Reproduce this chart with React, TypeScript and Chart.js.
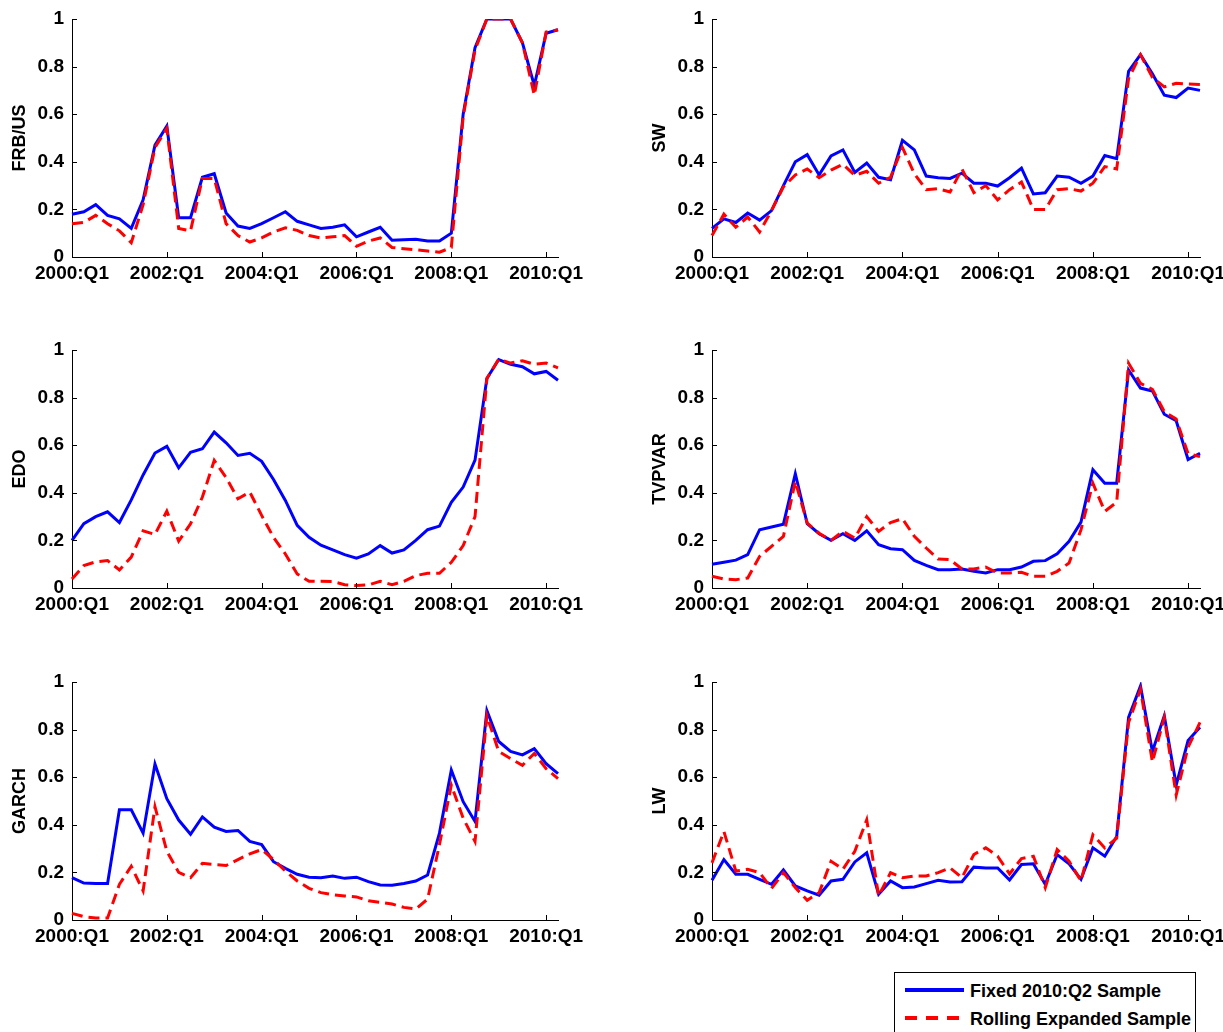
import React, { useEffect, useRef } from "react";
import { Chart, registerables } from "chart.js";

Chart.register(...registerables);

const FONT = '"Liberation Sans", Arial, Helvetica, sans-serif';

const quarters: string[] = [];
for (let yr = 2000; yr <= 2010; yr++) {
  for (let q = 1; q <= 4; q++) {
    if (yr === 2010 && q > 2) break;
    quarters.push(`${yr}:Q${q}`);
  }
}
const xTickIdx = [0, 8, 16, 24, 32, 40];
const legendLabels = ["Fixed 2010:Q2 Sample", "Rolling Expanded Sample"];

const frbFixed = [0.18,0.19,0.22,0.175,0.16,0.12,0.24,0.47,0.55,0.165,0.165,0.335,0.35,0.185,0.13,0.12,0.14,0.165,0.19,0.15,0.135,0.12,0.125,0.135,0.085,0.105,0.125,0.07,0.072,0.075,0.067,0.067,0.1,0.6,0.88,1.0,1.0,1.0,0.9,0.72,0.94,0.955];
const frbRolling = [0.14,0.145,0.175,0.14,0.11,0.06,0.22,0.46,0.54,0.12,0.11,0.33,0.33,0.14,0.09,0.063,0.08,0.105,0.123,0.112,0.09,0.08,0.085,0.09,0.045,0.067,0.08,0.04,0.035,0.03,0.025,0.02,0.04,0.59,0.87,1.0,1.0,1.0,0.9,0.68,0.945,0.955];

const swFixed = [0.12,0.16,0.145,0.185,0.155,0.195,0.3,0.4,0.43,0.345,0.425,0.45,0.355,0.395,0.335,0.325,0.49,0.45,0.34,0.333,0.33,0.352,0.31,0.31,0.298,0.333,0.373,0.265,0.27,0.34,0.335,0.31,0.34,0.426,0.413,0.78,0.85,0.77,0.68,0.67,0.71,0.7];
const swRolling = [0.09,0.18,0.125,0.168,0.105,0.195,0.295,0.345,0.37,0.333,0.365,0.39,0.343,0.36,0.31,0.335,0.46,0.35,0.283,0.287,0.273,0.37,0.27,0.3,0.24,0.283,0.315,0.2,0.2,0.283,0.287,0.277,0.31,0.38,0.37,0.75,0.85,0.755,0.715,0.73,0.727,0.725];

const edoFixed = [0.2,0.27,0.3,0.32,0.275,0.37,0.475,0.567,0.595,0.505,0.57,0.585,0.655,0.61,0.557,0.566,0.532,0.456,0.368,0.263,0.213,0.18,0.16,0.14,0.125,0.143,0.178,0.147,0.16,0.2,0.245,0.26,0.36,0.424,0.537,0.88,0.96,0.94,0.93,0.9,0.91,0.873];
const edoRolling = [0.038,0.094,0.11,0.115,0.076,0.13,0.24,0.225,0.323,0.197,0.27,0.382,0.536,0.464,0.375,0.403,0.305,0.213,0.143,0.059,0.028,0.028,0.027,0.014,0.01,0.013,0.028,0.014,0.028,0.052,0.062,0.062,0.108,0.178,0.3,0.88,0.962,0.945,0.955,0.94,0.945,0.925];

const tvpFixed = [0.1,0.108,0.117,0.14,0.245,0.256,0.268,0.48,0.27,0.228,0.2,0.228,0.2,0.24,0.182,0.165,0.161,0.116,0.095,0.077,0.077,0.08,0.07,0.063,0.077,0.077,0.088,0.112,0.115,0.144,0.196,0.277,0.497,0.44,0.44,0.916,0.84,0.828,0.73,0.703,0.54,0.566];
const tvpRolling = [0.049,0.038,0.035,0.042,0.133,0.175,0.217,0.448,0.273,0.23,0.2,0.238,0.21,0.3,0.238,0.275,0.291,0.217,0.168,0.122,0.119,0.08,0.08,0.088,0.063,0.063,0.066,0.049,0.049,0.07,0.105,0.245,0.44,0.322,0.36,0.944,0.86,0.835,0.741,0.71,0.564,0.552];

const garchFixed = [0.178,0.155,0.153,0.153,0.463,0.463,0.365,0.655,0.51,0.42,0.36,0.433,0.39,0.372,0.376,0.33,0.317,0.245,0.217,0.192,0.18,0.178,0.185,0.175,0.18,0.161,0.147,0.146,0.153,0.164,0.189,0.365,0.63,0.497,0.414,0.88,0.75,0.708,0.694,0.72,0.657,0.615];
const garchRolling = [0.028,0.014,0.008,0.008,0.15,0.226,0.122,0.476,0.289,0.2,0.178,0.238,0.233,0.229,0.254,0.278,0.296,0.254,0.206,0.164,0.133,0.115,0.106,0.101,0.097,0.081,0.074,0.067,0.053,0.046,0.088,0.317,0.567,0.428,0.33,0.858,0.708,0.678,0.65,0.7,0.636,0.594];

const lwFixed = [0.167,0.254,0.192,0.192,0.171,0.15,0.21,0.143,0.122,0.104,0.164,0.171,0.244,0.282,0.108,0.164,0.136,0.139,0.153,0.167,0.16,0.161,0.222,0.219,0.219,0.168,0.233,0.236,0.15,0.275,0.236,0.171,0.303,0.268,0.351,0.851,0.983,0.708,0.858,0.567,0.754,0.81];
const lwRolling = [0.24,0.372,0.206,0.213,0.199,0.133,0.199,0.136,0.083,0.115,0.247,0.213,0.289,0.421,0.101,0.199,0.178,0.185,0.185,0.199,0.219,0.178,0.275,0.303,0.268,0.194,0.258,0.268,0.136,0.296,0.247,0.164,0.358,0.303,0.344,0.83,0.969,0.664,0.851,0.525,0.726,0.83];

const inwardTicks = {
  id: "inwardTicks",
  afterDraw(chart: any) {
    const { ctx, chartArea, scales } = chart;
    const x = scales.x;
    const y = scales.y;
    ctx.save();
    ctx.strokeStyle = "#000";
    ctx.lineWidth = 1;
    ctx.beginPath();
    x.ticks.forEach((_t: any, i: number) => {
      const px = Math.round(x.getPixelForTick(i)) + 0.5;
      ctx.moveTo(px, chartArea.bottom);
      ctx.lineTo(px, chartArea.bottom - 5);
    });
    y.ticks.forEach((_t: any, i: number) => {
      const py = Math.round(y.getPixelForTick(i)) + 0.5;
      ctx.moveTo(chartArea.left, py);
      ctx.lineTo(chartArea.left + 5, py);
    });
    ctx.stroke();
    ctx.restore();
  },
};

type PanelProps = {
  label: string;
  fixed: number[];
  rolling: number[];
  left: number;
  top: number;
  width: number;
  padRight: number;
};

function Panel({ label, fixed, rolling, left, top, width, padRight }: PanelProps) {
  const ref = useRef<HTMLCanvasElement | null>(null);
  useEffect(() => {
    if (!ref.current) return;
    const tickFont = { family: FONT, size: 19, weight: "bold" as const };
    const titleFont = { family: FONT, size: 18, weight: "bold" as const };
    const chart = new Chart(ref.current, {
      type: "line",
      data: {
        labels: quarters,
        datasets: [
          {
            label: legendLabels[1],
            data: rolling,
            borderColor: "#ff0000",
            borderWidth: 3,
            borderDash: [11, 6],
            pointRadius: 0,
            fill: false,
            tension: 0,
            order: 1,
          },
          {
            label: legendLabels[0],
            data: fixed,
            borderColor: "#0000ff",
            borderWidth: 3,
            pointRadius: 0,
            fill: false,
            tension: 0,
            order: 2,
          },
        ],
      },
      options: {
        responsive: false,
        animation: false,
        devicePixelRatio: 1,
        events: [],
        layout: { padding: { top: 19, right: padRight, left: 0, bottom: 0 } },
        plugins: { legend: { display: false }, tooltip: { enabled: false } },
        scales: {
          x: {
            type: "category",
            offset: false,
            grid: { display: false, drawTicks: false },
            border: { display: true, color: "#000", width: 1 },
            ticks: {
              autoSkip: false,
              maxRotation: 0,
              minRotation: 0,
              padding: 5,
              color: "#000",
              font: tickFont,
              callback: (v: any) => quarters[v as number],
            },
            afterBuildTicks: (s: any) => {
              s.ticks = s.ticks.filter((t: any) => xTickIdx.includes(t.value));
            },
            afterFit: (s: any) => {
              s.height = 43;
              s.paddingLeft = 0;
              s.paddingRight = 0;
            },
          },
          y: {
            min: 0,
            max: 1,
            grid: { display: false, drawTicks: false },
            border: { display: true, color: "#000", width: 1 },
            ticks: {
              stepSize: 0.2,
              padding: 8,
              color: "#000",
              font: tickFont,
              callback: (v: any) => String(Math.round(Number(v) * 10) / 10),
            },
            title: {
              display: true,
              text: label,
              color: "#000",
              font: titleFont,
              padding: { top: 9, bottom: 0 },
            },
            afterFit: (s: any) => {
              s.width = 72;
              s.paddingTop = 0;
              s.paddingBottom = 0;
            },
          },
        },
      } as any,
      plugins: [inwardTicks],
    });
    return () => chart.destroy();
  }, []);
  return (
    <canvas
      ref={ref}
      width={width}
      height={300}
      style={{ position: "absolute", left, top, width, height: 300 }}
    />
  );
}

export default function App() {
  const rows = [0, 331, 663];
  const L = { left: 0, width: 600, padRight: 42 };
  const R = { left: 640, width: 583, padRight: 23 };
  return (
    <div
      style={{
        position: "absolute",
        left: 0,
        top: 0,
        width: 1223,
        height: 1032,
        overflow: "hidden",
        background: "#fff",
      }}
    >
      <Panel label="FRB/US" fixed={frbFixed} rolling={frbRolling} top={rows[0]} {...L} />
      <Panel label="SW" fixed={swFixed} rolling={swRolling} top={rows[0]} {...R} />
      <Panel label="EDO" fixed={edoFixed} rolling={edoRolling} top={rows[1]} {...L} />
      <Panel label="TVPVAR" fixed={tvpFixed} rolling={tvpRolling} top={rows[1]} {...R} />
      <Panel label="GARCH" fixed={garchFixed} rolling={garchRolling} top={rows[2]} {...L} />
      <Panel label="LW" fixed={lwFixed} rolling={lwRolling} top={rows[2]} {...R} />
      <div
        style={{
          position: "absolute",
          left: 894,
          top: 972,
          width: 302,
          height: 66,
          border: "1.5px solid #000",
          boxSizing: "border-box",
          background: "#fff",
          fontFamily: FONT,
          fontWeight: "bold",
          fontSize: 18,
          color: "#000",
        }}
      >
        <div
          style={{
            position: "absolute",
            left: 10,
            top: 15,
            width: 59,
            height: 4,
            background: "#0000ff",
          }}
        />
        <div style={{ position: "absolute", left: 75, top: 7, lineHeight: "22px", whiteSpace: "nowrap" }}>
          {legendLabels[0]}
        </div>
        <div
          style={{
            position: "absolute",
            left: 10,
            top: 43,
            width: 59,
            height: 4,
            background:
              "repeating-linear-gradient(to right, #ff0000 0px, #ff0000 12px, transparent 12px, transparent 21px)",
          }}
        />
        <div style={{ position: "absolute", left: 75, top: 35, lineHeight: "22px", whiteSpace: "nowrap" }}>
          {legendLabels[1]}
        </div>
      </div>
    </div>
  );
}
